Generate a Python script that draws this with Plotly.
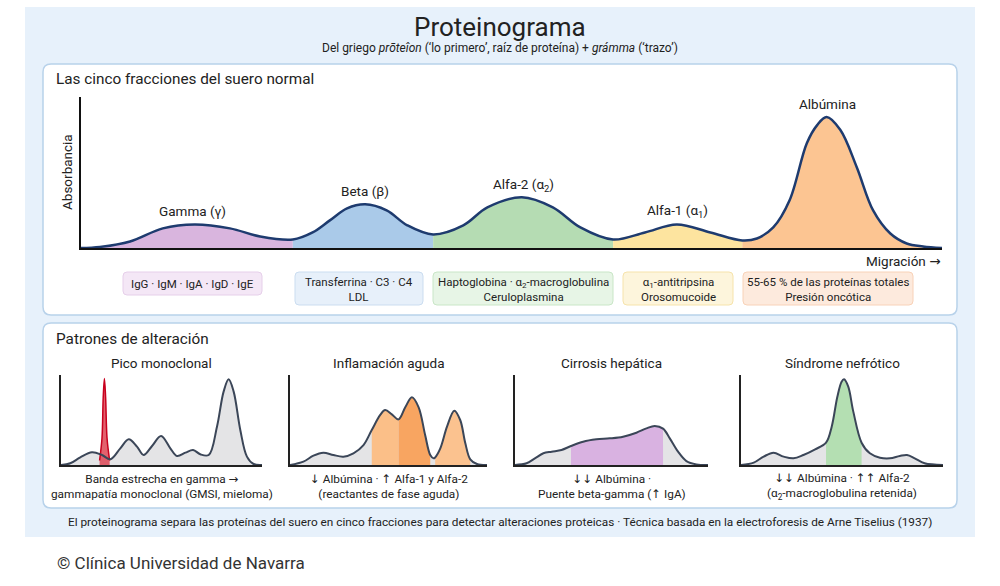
import plotly.graph_objects as go

W, H = 1000, 586
FONT = "Roboto, 'DejaVu Sans', sans-serif"

# ---- curva normal (migración 0-100, absorbancia 0-100) ----
MIGRATION = [0, 2.2, 5.7, 9.5, 13.2, 17.3, 20.8, 24.6, 26.9, 28.9, 30.9, 33.0, 35.5, 37.9,
             40.9, 44.4, 47.2, 51.2, 54.8, 58.0, 61.8, 65.5, 69.2, 73.1, 76.8, 78.5, 80.4,
             82.3, 84.3, 85.5, 86.6, 88.2, 90.1, 92.0, 94.0, 95.9, 97.8, 100]
ABSORBANCE = [0, 0.7, 4.3, 13.0, 15.6, 13.0, 7.6, 5.6, 10.3, 18.3, 26.2, 28.9, 24.9, 15.0,
              9.0, 15.0, 26.9, 33.6, 26.9, 13.6, 5.6, 10.3, 15.6, 10.3, 5.0, 6.3, 13.6,
              31.6, 69.4, 81.4, 86.7, 78.1, 53.5, 24.9, 9.6, 3.0, 1.0, 0]

FRACTION_NAMES = ["Gamma (γ)", "Beta (β)", "Alfa-2 (α<sub>2</sub>)", "Alfa-1 (α<sub>1</sub>)", "Albúmina"]
FRACTION_LIMITS = [0, 24.6, 40.9, 61.8, 76.8, 100]
FRACTION_COLORS = ["#d9b5de", "#aacae9", "#b5dcb3", "#fde49f", "#fcc592"]
FRACTION_PROTEINS = ["IgG · IgM · IgA · IgD · IgE",
                     "Transferrina · C3 · C4<br>LDL",
                     "Haptoglobina · α<sub>2</sub>-macroglobulina<br>Ceruloplasmina",
                     "α<sub>1</sub>-antitripsina<br>Orosomucoide",
                     "55-65 % de las proteínas totales<br>Presión oncótica"]
BOX_FILL = ["#f4e7f6", "#e7f0fa", "#e7f5e6", "#fdf5dc", "#fdeadd"]
BOX_LINE = ["#e6cfea", "#cbddf0", "#c9e6c7", "#f6e3ab", "#f8d2b8"]

# ---- patrones de alteración ----
PATTERN_TITLES = ["Pico monoclonal", "Inflamación aguda", "Cirrosis hepática", "Síndrome nefrótico"]
PATTERN_CAPTIONS = ["Banda estrecha en gamma →<br>gammapatía monoclonal (GMSI, mieloma)",
                    "↓ Albúmina · ↑ Alfa-1 y Alfa-2<br>(reactantes de fase aguda)",
                    "↓↓ Albúmina ·<br>Puente beta-gamma (↑ IgA)",
                    "↓↓ Albúmina · ↑↑ Alfa-2<br>(α<sub>2</sub>-macroglobulina retenida)"]

MONO_X = [0, 4.6, 9.6, 15.4, 20.4, 24.5, 29.5, 33.7, 37.8, 41.1, 45.3, 49.8, 54.4, 57.7,
          61.9, 65.7, 69.3, 73.5, 77.6, 80.9, 83.4, 85.9, 89.2, 92.5, 95.8, 100]
MONO_Y = [0, 1.9, 8.5, 14.1, 11.1, 6.3, 18.5, 28.5, 20.4, 11.1, 21.1, 32.2, 18.5, 10.0,
          13.7, 16.7, 11.9, 11.1, 42.6, 81.5, 95.2, 81.5, 38.9, 9.3, 1.1, 0]
SPIKE_X = [19.2, 20.4, 21.0, 21.6, 22.2, 22.9, 24.2]
SPIKE_Y = [5, 30, 75, 96, 75, 30, 5]

INFL_X = [0, 6.8, 11.9, 16.9, 22.0, 27.1, 32.2, 37.3, 41.5, 45.8, 48.3, 51.7, 55.1, 58.5,
          61.9, 65.3, 68.6, 71.2, 72.9, 73.7, 76.3, 79.7, 83.4, 86.4, 89.0, 91.5, 94.9, 100]
INFL_Y = [0, 3.7, 10.4, 13.7, 11.1, 9.3, 13.0, 22.2, 38.9, 55.6, 61.1, 56.3, 50.7, 64.1,
          75.2, 64.1, 33.3, 11.1, 7.4, 8.5, 18.5, 42.6, 60.4, 50.0, 24.1, 6.3, 1.1, 0]
INFL_BANDS = [(41.5, 55.1, "#fbbf88"), (55.1, 71.2, "#f8a561"), (73.7, 91.5, "#fbc28f")]

CIRR_X = [0, 6.0, 10.3, 14.7, 19.0, 24.1, 29.0, 35.3, 42.2, 49.1, 56.0, 62.9, 68.1, 72.4,
          76.7, 80.2, 84.5, 88.8, 94.0, 100]
CIRR_Y = [0, 1.9, 7.4, 13.0, 14.8, 16.7, 21.1, 25.9, 28.5, 29.6, 31.5, 35.9, 40.7, 43.3,
          40.4, 29.6, 14.8, 4.4, 0.7, 0]
CIRR_BANDS = [(29.0, 76.7, "#d9b2e1")]

NEFR_X = [0, 6.3, 11.2, 16.1, 21.1, 26.0, 30.9, 36.7, 42.1, 44.9, 47.7, 49.8, 51.0, 53.1,
          55.6, 59.7, 63.8, 68.8, 73.7, 78.6, 82.2, 86.0, 90.9, 100]
NEFR_Y = [0, 2.6, 9.3, 13.7, 9.3, 7.4, 11.1, 17.4, 24.8, 42.6, 75.9, 92.6, 95.2, 87.0,
          59.3, 24.8, 13.0, 8.1, 7.4, 10.0, 11.1, 7.4, 1.9, 0]
NEFR_BANDS = [(42.1, 59.7, "#b4dfb2")]

NOTE = ("El proteinograma separa las proteínas del suero en cinco fracciones para detectar "
        "alteraciones proteicas · Técnica basada en la electroforesis de Arne Tiselius (1937)")


def px(x):
    return x / W


def py(y):
    return 1 - y / H


def rrect(x0, y0, x1, y1, r):
    pts = [
        f"M {px(x0 + r)},{py(y0)}", f"L {px(x1 - r)},{py(y0)}",
        f"Q {px(x1)},{py(y0)} {px(x1)},{py(y0 + r)}", f"L {px(x1)},{py(y1 - r)}",
        f"Q {px(x1)},{py(y1)} {px(x1 - r)},{py(y1)}", f"L {px(x0 + r)},{py(y1)}",
        f"Q {px(x0)},{py(y1)} {px(x0)},{py(y1 - r)}", f"L {px(x0)},{py(y0 + r)}",
        f"Q {px(x0)},{py(y0)} {px(x0 + r)},{py(y0)}", "Z"]
    return " ".join(pts)


def segment(xs, ys, lo, hi):
    sx = [x for x in xs if lo <= x <= hi]
    sy = [y for x, y in zip(xs, ys) if lo <= x <= hi]
    return sx, sy


fig = go.Figure()
shapes = []
annotations = []


def text(x, y, s, size, color="#222", xanchor="center", angle=0):
    annotations.append(dict(x=px(x), y=py(y), xref="paper", yref="paper", text=s, showarrow=False,
                            xanchor=xanchor, yanchor="middle", textangle=angle,
                            font=dict(size=size, color=color, family=FONT)))


# fondo y paneles
shapes.append(dict(type="rect", xref="paper", yref="paper", x0=px(25), x1=px(975), y0=py(537), y1=py(7),
                   fillcolor="#e7f1fb", line=dict(width=0), layer="below"))
for y0, y1 in [(64, 315), (323, 508)]:
    shapes.append(dict(type="path", xref="paper", yref="paper", path=rrect(43, y0, 957, y1, 8),
                       fillcolor="white", line=dict(color="#b8d2ea", width=1.5), layer="below"))

# ---- gráfico principal ----
for i in range(5):
    sx, sy = segment(MIGRATION, ABSORBANCE, FRACTION_LIMITS[i], FRACTION_LIMITS[i + 1])
    fig.add_trace(go.Scatter(x=sx, y=sy, mode="lines", line=dict(width=0, shape="spline"),
                             fill="tozeroy", fillcolor=FRACTION_COLORS[i], hoverinfo="skip",
                             xaxis="x", yaxis="y"))
fig.add_trace(go.Scatter(x=MIGRATION, y=ABSORBANCE, mode="lines",
                         line=dict(color="#1e3b6f", width=2.5, shape="spline"), xaxis="x", yaxis="y"))

label_pos = [(192, 211), (365, 191), (523, 185), (677, 211), (827, 104)]
for name, (lx, ly) in zip(FRACTION_NAMES, label_pos):
    text(lx, ly, name, 13.5)

boxes = [(123, 262, 272, 295), (295, 423, 272, 305), (433, 613, 272, 305),
         (623, 733, 272, 305), (743, 913, 272, 305)]
for i, (x0, x1, y0, y1) in enumerate(boxes):
    shapes.append(dict(type="path", xref="paper", yref="paper", path=rrect(x0, y0, x1, y1, 4),
                       fillcolor=BOX_FILL[i], line=dict(color=BOX_LINE[i], width=1), layer="below"))
    text((x0 + x1) / 2, (y0 + y1) / 2 + 0.5, FRACTION_PROTEINS[i], 11.5)

text(54, 79, "Las cinco fracciones del suero normal", 15.3, xanchor="left")
text(67, 172, "Absorbancia", 13.5, angle=-90)
text(942, 261, "Migración →", 13.5, xanchor="right")

# ---- patrones ----
patterns = [(MONO_X, MONO_Y, []), (INFL_X, INFL_Y, INFL_BANDS),
            (CIRR_X, CIRR_Y, CIRR_BANDS), (NEFR_X, NEFR_Y, NEFR_BANDS)]
mini_domains = [(61, 262), (290, 487), (515, 708), (741, 943)]
for k, (xs, ys, bands) in enumerate(patterns):
    xa, ya = f"x{k + 2}", f"y{k + 2}"
    fig.add_trace(go.Scatter(x=xs, y=ys, mode="lines", line=dict(width=0, shape="spline"),
                             fill="tozeroy", fillcolor="#e4e4e6", hoverinfo="skip", xaxis=xa, yaxis=ya))
    for lo, hi, col in bands:
        sx, sy = segment(xs, ys, lo, hi)
        fig.add_trace(go.Scatter(x=sx, y=sy, mode="lines", line=dict(width=0, shape="spline"),
                                 fill="tozeroy", fillcolor=col, hoverinfo="skip", xaxis=xa, yaxis=ya))
    if k == 0:
        fig.add_trace(go.Scatter(x=SPIKE_X, y=SPIKE_Y, mode="lines",
                                 line=dict(color="#c8001e", width=1.5, shape="spline"),
                                 fill="tozeroy", fillcolor="rgba(221,70,85,0.85)", xaxis=xa, yaxis=ya))
    fig.add_trace(go.Scatter(x=xs, y=ys, mode="lines", line=dict(color="#3b4658", width=2, shape="spline"),
                             xaxis=xa, yaxis=ya))
    d0, d1 = mini_domains[k]
    text((d0 + d1) / 2, 363, PATTERN_TITLES[k], 13.5)
    text((d0 + d1) / 2, 486, PATTERN_CAPTIONS[k], 11.8)

text(54, 339, "Patrones de alteración", 15.3, xanchor="left")

# ---- títulos ----
text(500, 27, "Proteinograma", 26)
text(500, 48, "Del griego <i>prōteîon</i> (‘lo primero’, raíz de proteína) + <i>grámma</i> (‘trazo’)", 12)
text(500, 522, NOTE, 11.8)
text(55, 563, "© Clínica Universidad de Navarra", 17, color="#333", xanchor="left")

axis_off = dict(showgrid=False, zeroline=False, showticklabels=False, ticks="", fixedrange=True)
layout_axes = dict(
    xaxis=dict(domain=[px(81), px(942)], range=[0, 100], anchor="y", showline=True,
               linecolor="#111", linewidth=2, **axis_off),
    yaxis=dict(domain=[py(248), py(97)], range=[0, 100], anchor="x", showline=True,
               linecolor="#111", linewidth=2, **axis_off),
)
for k, (d0, d1) in enumerate(mini_domains):
    layout_axes[f"xaxis{k + 2}"] = dict(domain=[px(d0), px(d1)], range=[0, 100], anchor=f"y{k + 2}",
                                        showline=True, linecolor="#222", linewidth=1.5, **axis_off)
    layout_axes[f"yaxis{k + 2}"] = dict(domain=[py(465), py(375)], range=[0, 100], anchor=f"x{k + 2}",
                                        showline=True, linecolor="#222", linewidth=1.5, **axis_off)

fig.update_layout(width=W, height=H, margin=dict(l=0, r=0, t=0, b=0), showlegend=False,
                  paper_bgcolor="white", plot_bgcolor="rgba(0,0,0,0)",
                  font=dict(family=FONT, color="#222"), shapes=shapes, annotations=annotations,
                  **layout_axes)

fig.write_html("out.html", config={"displayModeBar": False},
               post_script="document.body.style.margin='0';")
